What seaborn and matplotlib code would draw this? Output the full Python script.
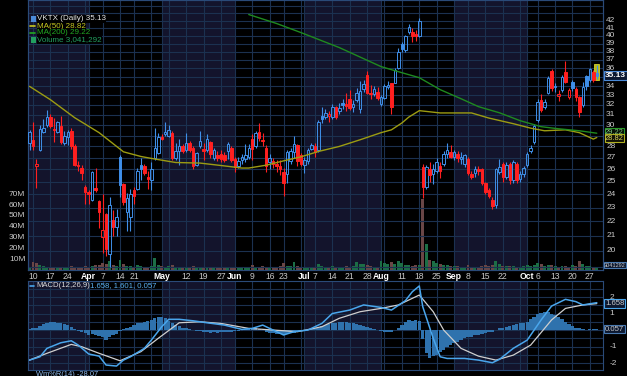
import numpy as np
import pandas as pd
import matplotlib
matplotlib.use("Agg")
import matplotlib.pyplot as plt
import seaborn as sns
from matplotlib.patches import Rectangle
from matplotlib.lines import Line2D

# ---------------- data ----------------
holidays = ["2025-04-18", "2025-05-26", "2025-06-19", "2025-07-04", "2025-09-01"]
trade_dates = pd.bdate_range("2025-03-07", "2025-10-29")
trade_dates = trade_dates[~trade_dates.isin(pd.to_datetime(holidays))]

opens = [28.3, 28.6, 26.3, 27.7, 29.3, 30.0, 30.8, 29.6, 29.3, 29.9, 28.3, 28.9, 29.4, 28.0, 26.4, 26.1,
         24.6, 24.2, 23.6, 24.5, 23.5, 20.9, 22.5, 19.8, 22.1, 21.6,
         27.1, 24.8, 22.7, 22.3, 24.3, 24.4, 26.4, 26.3, 25.4, 25.1, 27.0, 27.4,
         28.9, 29.1, 29.0, 29.2, 27.0, 27.6, 28.0, 27.7, 28.3, 27.9, 26.4, 28.0, 27.8, 27.7, 28.4, 27.0, 27.2, 27.3, 27.2, 27.6, 27.9,
         26.9, 26.3, 26.8, 26.9, 27.1, 28.7, 28.0, 29.3, 28.6, 27.9, 26.6, 26.7, 26.5, 26.3, 25.8, 25.6, 26.7, 27.5, 28.1, 27.2,
         26.4, 26.7, 27.8, 28.0, 27.7, 30.9, 30.8, 30.9, 30.8, 31.8, 31.4, 32.2, 32.1, 32.6, 31.8, 32.5, 31.6, 33.7, 35.2, 33.2, 33.2, 33.4,
         32.1, 32.7, 33.9, 34.3, 34.4, 36.0, 39.0, 38.2, 40.5, 40.5, 40.2, 40.0,
         26.2, 24.6, 26.0, 25.6, 25.9, 26.3, 26.5, 27.3, 27.5,
         27.1, 27.3, 26.9, 26.5, 26.9, 25.6, 25.7, 26.0, 26.0, 24.9, 24.3, 23.6, 23.2, 25.8, 26.5, 25.4, 26.5, 25.1, 26.5, 25.2, 25.6,
         26.4, 27.6, 28.4, 30.5, 32.5, 31.8, 33.3, 35.7, 33.9, 32.9, 33.6, 35.6, 32.8, 34.5, 33.7, 32.8, 32.0, 35.1, 34.7, 35.6, 35.5]
highs = [29.5, 30.3, 26.9, 30.0, 30.6, 31.5, 31.1, 30.7, 30.4, 30.9, 29.4, 29.5, 29.7, 28.2, 26.7, 26.4,
         24.7, 24.3, 25.9, 26.1, 23.6, 24.0, 22.6, 23.8, 22.8, 22.9,
         27.2, 24.9, 24.1, 24.4, 24.6, 26.1, 27.0, 26.5, 25.9, 26.6, 29.7, 29.2,
         29.1, 30.3, 30.0, 29.4, 28.3, 28.7, 28.2, 29.2, 28.5, 28.0, 27.5, 29.4, 28.3, 29.1, 28.5, 27.9, 27.6, 27.7, 27.5, 28.4, 28.0,
         27.1, 27.1, 27.3, 28.2, 28.2, 29.1, 29.4, 30.2, 29.2, 28.1, 27.3, 27.0, 26.8, 26.8, 26.1, 27.7, 27.9, 29.0, 28.2, 27.4,
         27.1, 27.9, 28.3, 28.3, 30.5, 31.8, 31.6, 31.4, 32.1, 31.9, 32.2, 32.6, 33.3, 33.6, 32.5, 33.8, 34.6, 34.7, 35.7, 34.1, 34.0, 33.9,
         33.0, 34.2, 34.6, 34.4, 36.1, 38.4, 39.2, 40.1, 41.5, 41.0, 40.8, 42.3,
         26.5, 26.4, 26.6, 26.5, 27.0, 26.6, 27.6, 28.3, 28.1,
         27.7, 27.6, 27.5, 27.3, 27.1, 25.9, 26.3, 26.3, 26.1, 25.0, 24.5, 23.8, 26.1, 26.9, 26.6, 26.6, 26.6, 26.8, 26.6, 25.9, 26.3,
         27.5, 28.1, 30.1, 32.6, 33.2, 32.6, 35.1, 35.9, 34.3, 33.6, 35.2, 36.9, 33.8, 34.7, 33.9, 32.9, 34.5, 35.3, 36.1, 35.8, 36.4]
lows = [27.7, 27.7, 24.5, 27.6, 29.2, 29.8, 29.7, 28.4, 29.2, 28.2, 28.1, 28.1, 27.8, 26.3, 25.9, 25.1,
        23.3, 23.3, 23.5, 24.2, 21.5, 19.9, 19.7, 19.0, 21.0, 21.0,
        23.8, 23.2, 21.3, 21.3, 23.3, 24.3, 25.1, 25.5, 24.4, 24.3, 26.8, 27.3,
        28.6, 29.0, 28.9, 26.8, 26.8, 26.4, 27.4, 27.5, 27.5, 26.0, 26.3, 27.9, 26.8, 27.5, 27.0, 26.8, 26.7, 26.6, 26.6, 26.9, 26.6,
        25.8, 26.1, 26.5, 26.6, 26.9, 26.8, 27.9, 28.5, 28.0, 25.8, 26.0, 26.1, 25.8, 25.5, 23.9, 24.9, 26.5, 27.0, 26.3, 26.3,
        25.7, 26.5, 27.7, 27.1, 27.5, 30.2, 30.6, 30.3, 30.6, 30.6, 31.1, 31.6, 31.4, 31.5, 31.3, 32.3, 31.2, 33.4, 33.1, 32.6, 32.9, 32.5,
        31.9, 32.6, 33.7, 31.1, 34.3, 35.9, 37.9, 38.0, 40.2, 39.2, 39.3, 39.8,
        23.7, 24.4, 25.0, 24.8, 25.7, 25.3, 26.3, 27.0, 27.0,
        26.8, 26.6, 26.5, 26.2, 25.5, 25.2, 25.4, 25.5, 24.7, 24.0, 23.7, 22.9, 23.0, 25.6, 25.0, 25.2, 24.8, 24.9, 24.9, 25.0, 25.4,
        26.2, 27.4, 28.2, 30.3, 31.3, 31.6, 33.1, 33.5, 33.4, 32.4, 33.4, 34.3, 32.6, 33.5, 32.4, 30.8, 31.8, 33.6, 34.5, 34.5, 34.8]
closes = [29.3, 28.0, 26.5, 29.6, 29.7, 30.8, 29.9, 29.5, 30.3, 28.4, 29.0, 29.3, 28.0, 26.4, 26.3, 25.7,
          24.2, 24.0, 25.8, 24.3, 22.7, 21.4, 20.1, 23.2, 21.6, 22.3,
          24.7, 23.4, 23.7, 24.0, 23.9, 25.9, 26.0, 25.7, 25.2, 26.0, 27.9, 28.9,
          28.7, 29.3, 29.5, 27.0, 27.6, 28.0, 27.6, 28.3, 27.7, 26.3, 27.4, 28.5, 27.6, 28.7, 27.3, 27.7, 27.0, 26.9, 26.8, 28.2, 26.8,
          26.2, 26.7, 27.1, 27.2, 27.9, 27.8, 29.2, 28.8, 28.5, 26.3, 27.0, 26.5, 26.3, 26.0, 24.9, 27.5, 27.6, 28.2, 26.7, 26.5,
          26.8, 27.7, 28.1, 27.5, 30.3, 30.6, 31.2, 31.1, 31.8, 30.8, 31.7, 32.0, 31.9, 31.7, 32.1, 33.3, 33.5, 34.2, 33.3, 33.1, 33.7, 32.7,
          32.8, 34.0, 34.1, 31.8, 35.8, 38.0, 38.3, 39.9, 41.2, 40.0, 39.9, 41.9,
          24.6, 26.2, 25.5, 26.0, 26.6, 25.9, 27.3, 27.7, 27.1,
          27.5, 27.0, 27.1, 27.2, 25.7, 25.4, 26.0, 25.9, 24.9, 24.2, 23.9, 23.1, 26.0, 26.2, 25.4, 26.4, 25.1, 26.6, 25.1, 25.6, 26.1,
          27.3, 27.9, 29.9, 32.3, 31.5, 32.3, 34.9, 33.8, 34.0, 33.1, 35.0, 34.5, 33.6, 33.8, 32.8, 31.3, 33.9, 34.0, 35.9, 34.7, 35.13]
volume_m = [3.0, 7.4, 6.5, 4.3, 3.5, 2.8, 2.2, 2.5, 3.0, 2.6, 2.4, 3.2, 3.8, 2.9, 2.7, 3.0,
            3.5, 3.0, 4.0, 4.5, 5.0, 6.5, 6.0, 8.6, 5.0, 4.0,
            9.0, 5.5, 4.0, 3.5, 3.0, 4.5, 3.5, 3.0, 2.8, 3.5, 11.0, 5.0,
            3.5, 3.0, 4.0, 5.0, 3.0, 2.8, 2.5, 3.0, 2.6, 4.0, 3.0, 2.8, 3.2, 2.5, 2.4, 2.6, 2.2, 2.5, 2.3, 2.8, 3.0,
            2.5, 2.3, 2.6, 3.0, 2.8, 4.5, 3.0, 2.5, 3.5, 2.6, 2.4, 2.2, 2.5, 4.0, 6.5, 4.0, 3.5, 7.4, 4.0, 3.0,
            3.0, 2.8, 2.5, 2.7, 5.5, 4.0, 3.0, 2.8, 3.5, 3.2, 3.0, 2.8, 3.5, 3.2, 3.5, 7.0, 6.0, 5.5, 4.5, 3.5, 3.0, 3.0,
            8.0, 6.5, 5.5, 7.5, 6.0, 8.0, 6.5, 5.0, 4.5, 4.0, 4.5, 5.0,
            66.0, 24.0, 9.5, 8.5, 6.5, 5.5, 5.0, 4.5, 3.5,
            4.0, 3.5, 3.0, 3.2, 4.5, 3.0, 2.8, 3.0, 3.5, 4.5, 3.5, 5.0, 8.0, 5.5, 4.0, 3.5, 3.8, 3.5, 3.2, 3.0, 3.5,
            4.5, 4.0, 5.0, 6.5, 5.5, 3.5, 5.0, 4.5, 3.5, 3.0, 4.0, 3.5, 3.0, 4.5, 3.5, 8.0, 5.5, 4.0, 3.5, 3.0, 3.04]

ma50_dates = ["2025-03-07", "2025-03-17", "2025-03-26", "2025-04-04", "2025-04-15", "2025-04-23", "2025-04-29",
              "2025-05-07", "2025-05-16", "2025-05-28", "2025-06-04", "2025-06-06", "2025-06-13", "2025-06-23",
              "2025-06-30", "2025-07-08", "2025-07-16", "2025-07-24", "2025-08-01", "2025-08-06", "2025-08-11",
              "2025-08-13", "2025-08-18", "2025-08-26", "2025-09-09", "2025-09-16", "2025-09-25", "2025-10-02",
              "2025-10-08", "2025-10-16", "2025-10-22", "2025-10-28", "2025-10-29"]
ma50_vals = [33.98, 32.55, 30.71, 29.27, 27.52, 27.11, 26.89, 26.59, 26.54, 26.30, 26.12, 26.12, 26.36, 26.73,
             27.08, 27.55, 28.00, 28.61, 29.27, 29.54, 30.20, 30.78, 31.42, 31.19, 31.19, 30.68, 30.13, 29.70,
             29.45, 29.54, 29.27, 28.67, 28.82]
ma200_dates = ["2025-06-06", "2025-06-18", "2025-06-30", "2025-07-16", "2025-08-01", "2025-08-08", "2025-08-18",
               "2025-08-26", "2025-09-04", "2025-09-11", "2025-09-19", "2025-09-29", "2025-10-07", "2025-10-14",
               "2025-10-22", "2025-10-29"]
ma200_vals = [42.82, 41.60, 40.40, 38.50, 36.21, 35.62, 34.94, 33.62, 32.65, 31.83, 31.21, 30.42, 29.84, 29.64,
              29.45, 29.22]

macd_dates = ["2025-03-07", "2025-03-12", "2025-03-14", "2025-03-20", "2025-03-25", "2025-03-27", "2025-04-01",
              "2025-04-04", "2025-04-08", "2025-04-11", "2025-04-15", "2025-04-17", "2025-04-24", "2025-04-28",
              "2025-05-01", "2025-05-05", "2025-05-08", "2025-05-14", "2025-05-20", "2025-05-28", "2025-06-04",
              "2025-06-09", "2025-06-12", "2025-06-17", "2025-06-23", "2025-06-26", "2025-07-02", "2025-07-09",
              "2025-07-14", "2025-07-21", "2025-07-25", "2025-08-01", "2025-08-06", "2025-08-12", "2025-08-14",
              "2025-08-18", "2025-08-19", "2025-08-22", "2025-08-26", "2025-08-28", "2025-09-05", "2025-09-11",
              "2025-09-17", "2025-09-19", "2025-09-25", "2025-10-01", "2025-10-07", "2025-10-10", "2025-10-16",
              "2025-10-21", "2025-10-23", "2025-10-29"]
macd_vals = [-1.82, -1.62, -1.11, -0.77, -0.65, -0.91, -1.45, -1.58, -2.12, -2.18, -1.82, -1.62, -1.11, -0.61,
             0.20, 0.65, 0.65, 0.56, 0.44, 0.30, 0.04, 0.10, 0.30, 0.00, -0.30, -0.10, 0.00, 0.40,
             1.00, 1.21, 1.52, 1.37, 1.21, 1.78, 2.32, 2.67, 1.41, -0.50, -1.62, -1.72, -1.72, -1.82,
             -1.98, -1.78, -1.11, -0.61, 0.61, 1.45, 1.86, 1.72, 1.52, 1.658]
signal_dates = ["2025-03-07", "2025-03-14", "2025-03-25", "2025-03-28", "2025-04-04", "2025-04-14", "2025-04-23",
                "2025-04-30", "2025-05-08", "2025-05-16", "2025-05-27", "2025-06-06", "2025-06-17", "2025-06-27",
                "2025-07-09", "2025-07-16", "2025-07-24", "2025-08-01", "2025-08-08", "2025-08-18", "2025-08-22",
                "2025-08-27", "2025-09-04", "2025-09-11", "2025-09-18", "2025-09-25", "2025-10-02", "2025-10-10",
                "2025-10-16", "2025-10-23", "2025-10-29"]
signal_vals = [-1.82, -1.41, -0.87, -1.01, -1.41, -1.86, -1.31, -0.50, 0.44, 0.50, 0.40, 0.10, 0.00, -0.10,
               0.20, 0.71, 1.11, 1.31, 1.52, 2.12, 1.11, 0.00, -1.11, -1.58, -1.82, -1.52, -0.91, 0.61,
               1.31, 1.52, 1.601]
hist_vals = [0.05, 0.1, 0.15,
             0.25, 0.35, 0.42, 0.48, 0.5, 0.45, 0.42, 0.35, 0.28, 0.2, 0.08,
             -0.05, -0.12, -0.2, -0.28, -0.25, -0.3, -0.38, -0.45, -0.6, -0.45, -0.3,
             -0.25, -0.05, 0.05, 0.1, 0.2,
             0.3, 0.4, 0.45, 0.5, 0.55, 0.6, 0.7, 0.8, 0.78, 0.7, 0.55, 0.4,
             0.3, 0.22, 0.15, 0.1, 0.05, 0.0,
             -0.05, -0.08, -0.1, -0.12, -0.15, -0.12, -0.15, -0.12, -0.1, -0.12, -0.1, -0.08,
             -0.05, 0.0, 0.05, 0.08, 0.1, 0.12, 0.08, 0.02,
             -0.1, -0.15, -0.2, -0.22, -0.25, -0.28, -0.22, -0.2, -0.15, -0.12, -0.08, -0.02,
             0.02, 0.05, 0.1, 0.15, 0.22, 0.3, 0.35,
             0.4, 0.45, 0.5, 0.5, 0.48, 0.45, 0.4, 0.35, 0.3, 0.25, 0.2, 0.15, 0.08, 0.02, -0.05,
             -0.1, -0.12, -0.1, -0.02, 0.1,
             0.3, 0.5, 0.6, 0.55, 0.6, 0.55,
             -0.55, -1.4, -1.7, -1.6, -1.5, -1.35, -1.2, -1.05, -0.9,
             -0.8, -0.7, -0.6, -0.5, -0.45, -0.4, -0.32, -0.28, -0.22, -0.15, -0.12, -0.1, 0.0,
             0.1, 0.15, 0.2, 0.25, 0.3, 0.35, 0.4, 0.45, 0.5, 0.65, 0.8, 0.95, 1.05, 1.1, 1.1, 1.0, 0.9, 0.8,
             0.65, 0.5, 0.35, 0.25, 0.15, 0.1,
             0.05, 0.02, 0.05, 0.06, 0.057]

price_ticks = [20, 21, 22, 23, 24, 25, 26, 27, 28, 30, 31, 32, 33, 34, 36, 37, 38, 39, 40, 41, 42]
macd_ticks = [2, 1, -1, -2]
week_labels = [("2025-03-10", "10"), ("2025-03-17", "17"), ("2025-03-24", "24"), ("2025-04-01", "Apr"),
               ("2025-04-07", "7"), ("2025-04-14", "14"), ("2025-04-21", "21"), ("2025-05-01", "May"),
               ("2025-05-12", "12"), ("2025-05-19", "19"), ("2025-05-27", "27"), ("2025-06-02", "Jun"),
               ("2025-06-09", "9"), ("2025-06-16", "16"), ("2025-06-23", "23"), ("2025-07-01", "Jul"),
               ("2025-07-07", "7"), ("2025-07-14", "14"), ("2025-07-21", "21"), ("2025-07-28", "28"),
               ("2025-08-01", "Aug"), ("2025-08-11", "11"), ("2025-08-18", "18"), ("2025-08-25", "25"),
               ("2025-09-02", "Sep"), ("2025-09-08", "8"), ("2025-09-15", "15"), ("2025-09-22", "22"),
               ("2025-10-01", "Oct"), ("2025-10-06", "6"), ("2025-10-13", "13"), ("2025-10-20", "20"),
               ("2025-10-27", "27")]
extra_grid_dates = ["2025-03-31", "2025-04-28", "2025-05-05", "2025-06-30", "2025-08-04", "2025-09-29"]
shaded_months = [("2025-03-07", "2025-04-01"), ("2025-05-01", "2025-06-02"), ("2025-07-01", "2025-08-01"),
                 ("2025-09-02", "2025-10-01")]

# ---------------- helpers ----------------
date_str = list(trade_dates.strftime("%Y-%m-%d"))
pos = {d: i - 1 for i, d in enumerate(date_str)}
xk = np.arange(len(date_str)) - 1

sns.set_theme(style="dark", rc={"axes.facecolor": "black", "figure.facecolor": "black"})
plt.rcParams["font.family"] = ["Liberation Sans", "DejaVu Sans"]

W, H = 627, 376
fig = plt.figure(figsize=(W / 100, H / 100), dpi=100, facecolor="black")
L, R = 27.7, 602.7
ax = fig.add_axes([L / W, 1 - 270 / H, (R - L) / W, 270 / H])
axv = ax.twinx()
axm = fig.add_axes([L / W, 1 - 370 / H, (R - L) / W, 89 / H])

XL = (-1.52, 163.7)
BAND = "#13142c"
GRID = "#1b3150"
SPINE = "#2a4a78"
BLUE = "#3f8fe8"
RED = "#ff2020"
TXT = "#c8c8c8"

for a in (ax, axv, axm):
    a.set_xlim(*XL)
    a.set_xticks([])
    a.set_yticks([])
    a.grid(False)
    for s in a.spines.values():
        s.set_color(SPINE)
        s.set_linewidth(0.8)

axv.set_zorder(1)
ax.set_zorder(2)
ax.patch.set_visible(False)
axv.patch.set_facecolor("black")
axm.set_facecolor("black")

ax.set_yscale("log")
ax.set_ylim(18.81, 44.87)
ax.minorticks_off()
ax.set_yticks([])
axv.set_ylim(0, 249.3e6)
axm.set_ylim(-2.42, 2.97)

# month bands
for a, b in shaded_months:
    x0 = pos[a] + 0.3 if a != "2025-03-07" else XL[0]
    x1 = pos[b] + 0.3
    axv.axvspan(x0, x1, color=BAND, zorder=0, lw=0)
    axm.axvspan(x0, x1, color=BAND, zorder=0, lw=0)

# vertical grid
vgrid = [pos[d] for d, _ in week_labels] + [pos[d] for d in extra_grid_dates]
for g in vgrid:
    axv.axvline(g, color=GRID, lw=0.8, zorder=0.5)
    axm.axvline(g, color=GRID, lw=0.8, zorder=0.5)
# horizontal grid
for p in range(19, 45):
    ax.axhline(p, color=GRID, lw=0.8, zorder=0.5)
for v in np.arange(-2.5, 3.0, 0.5):
    axm.axhline(v, color=GRID, lw=0.8, zorder=0.5)

# volume
vol = np.array(volume_m) * 1e6
vcols = ["#1c6e46" if (i == 0 or closes[i] >= closes[i - 1]) else "#6a4646" for i in range(len(closes))]
axv.bar(xk, vol, width=0.85, color=vcols, zorder=1, lw=0)

# candles
for i in range(len(closes)):
    o, h, l, c = opens[i], highs[i], lows[i], closes[i]
    k = xk[i]
    pc = closes[i - 1] if i > 0 else o
    col = BLUE if c >= pc else RED
    top, bot = max(o, c), min(o, c)
    if top / bot < 1.004:
        top = bot * 1.004
    ax.vlines(k, l, bot, color=col, lw=0.8, zorder=3)
    ax.vlines(k, top, h, color=col, lw=0.8, zorder=3)
    filled = c < o
    if i == len(closes) - 1:
        ax.add_patch(Rectangle((k - 0.75, 34.7), 1.5, 1.8, fc="#b8b81e", ec="#d4d42a", lw=0.6, zorder=2.5))
    ax.add_patch(Rectangle((k - 0.36, bot), 0.72, top - bot,
                           fc=(col if filled else "none"), ec=col, lw=0.7, zorder=4))

# moving averages
sns.lineplot(x=[pos[d] for d in ma50_dates], y=ma50_vals, ax=ax, color="#9c9c12", lw=1.0,
             sort=False, estimator=None, zorder=5, legend=False)
sns.lineplot(x=[pos[d] for d in ma200_dates], y=ma200_vals, ax=ax, color="#1f8a1f", lw=1.0,
             sort=False, estimator=None, zorder=5, legend=False)
ax.set_xlim(*XL)
ax.set_ylim(18.81, 44.87)
ax.set_xlabel("")
ax.set_ylabel("")

# MACD panel
axm.bar(xk, hist_vals, width=0.95, color="#2f72ad", zorder=1, lw=0)
sns.lineplot(x=[pos[d] for d in signal_dates], y=signal_vals, ax=axm, color="#cfcfcf", lw=0.9,
             sort=False, estimator=None, zorder=3, legend=False)
sns.lineplot(x=[pos[d] for d in macd_dates], y=macd_vals, ax=axm, color="#4aa6ec", lw=1.1,
             sort=False, estimator=None, zorder=4, legend=False)
axm.set_xlim(*XL)
axm.set_ylim(-2.42, 2.97)
axm.set_xlabel("")
axm.set_ylabel("")

# right price labels
ytr = ax.get_yaxis_transform()
for p in price_ticks:
    ax.text(1.006, p, str(p), transform=ytr, color=TXT, fontsize=6.0, va="center", ha="left", clip_on=False)
ax.text(1.004, 35.13, "35.13", transform=ytr, color="white", fontsize=6.0, fontweight="bold", va="center",
        ha="left", bbox=dict(boxstyle="square,pad=0.12", fc="#0c1830", ec="#4a8ad8", lw=0.8), zorder=10)
ax.text(1.004, 29.33, "29.22", transform=ytr, color="#7fc47f", fontsize=5.4, va="center", ha="left",
        bbox=dict(boxstyle="square,pad=0.06", fc="#061206", ec="#2a9a2a", lw=0.8), zorder=10)
ax.text(1.004, 28.76, "28.82", transform=ytr, color="#d4d45a", fontsize=5.4, va="center", ha="left",
        bbox=dict(boxstyle="square,pad=0.06", fc="#121206", ec="#b0b020", lw=0.8), zorder=11)

# volume labels (left)
vtr = axv.get_yaxis_transform()
for m in range(10, 80, 10):
    axv.text(-0.004, m * 1e6, f"{m}M", transform=vtr, color=TXT, fontsize=6.0, va="center", ha="right")
axv.text(1.002, 4.6e6, "3041292", transform=vtr, color=TXT, fontsize=4.0, va="center", ha="left",
         bbox=dict(boxstyle="square,pad=0.05", fc="#0c1830", ec="#4a7ab0", lw=0.8), zorder=10)

# date labels
xtr = ax.get_xaxis_transform()
for d, s in week_labels:
    bold = s.isalpha()
    ax.text(pos[d], -0.024, s, transform=xtr, color=("white" if bold else TXT), fontsize=6.2,
            fontweight=("bold" if bold else "normal"), ha="center", va="center", clip_on=False)

# MACD right labels
mtr = axm.get_yaxis_transform()
for v in macd_ticks:
    axm.text(1.012, v, str(v), transform=mtr, color=TXT, fontsize=6.0, va="center", ha="left")
axm.text(1.004, 1.62, "1.658", transform=mtr, color=TXT, fontsize=5.6, va="center", ha="left",
         bbox=dict(boxstyle="square,pad=0.1", fc="#0c1830", ec="#4aa6ec", lw=0.8), zorder=10)
axm.text(1.004, 0.057, "0.057", transform=mtr, color=TXT, fontsize=5.6, va="center", ha="left",
         bbox=dict(boxstyle="square,pad=0.1", fc="#0c1830", ec="#4a7ab0", lw=0.8), zorder=10)

# legend texts
def fx(px):
    return px / W

def fy(py):
    return 1 - py / H

leg = [("VKTX (Daily) 35.13", "#e6e6e6", 19), ("MA(50) 28.82", "#c8c820", 26),
       ("MA(200) 29.22", "#22aa22", 33), ("Volume 3,041,292", "#22a060", 40)]
for s, c, y in leg:
    fig.text(fx(37), fy(y), s, color=c, fontsize=5.8, va="center", ha="left",
             bbox=dict(boxstyle="square,pad=0.05", fc="black", ec="none"), zorder=20)
fig.add_artist(Rectangle((fx(30.5), fy(21.5)), fx(5) - fx(0), fy(0) - fy(5), transform=fig.transFigure,
                         fc="#4a8ad8", ec="none", zorder=20))
fig.add_artist(Line2D([fx(30), fx(35)], [fy(26), fy(26)], color="#c8c820", lw=1.2, zorder=20))
fig.add_artist(Line2D([fx(30), fx(35)], [fy(33), fy(33)], color="#22aa22", lw=1.2, zorder=20))
fig.add_artist(Rectangle((fx(30.5), fy(42.5)), fx(5) - fx(0), fy(0) - fy(5), transform=fig.transFigure,
                         fc="#22a060", ec="none", zorder=20))

# MACD title
fig.add_artist(Line2D([fx(30), fx(34)], [fy(285.5), fy(285.5)], color="#4aa6ec", lw=1.2, zorder=20))
fig.text(fx(36), fy(285.5), "MACD(12,26,9)", color="#d8d8d8", fontsize=5.6, va="center", ha="left", zorder=20)
fig.text(fx(90), fy(285.5), "1.658, 1.601, 0.057", color="#5ab0f0", fontsize=5.6, va="center", ha="left",
         zorder=20)
fig.text(fx(36), fy(374.0), "Wm%R(14) -28.07", color="#8fb8e8", fontsize=5.4, va="center", ha="left", zorder=20)

fig.savefig("out.png", dpi=100, facecolor="black")
